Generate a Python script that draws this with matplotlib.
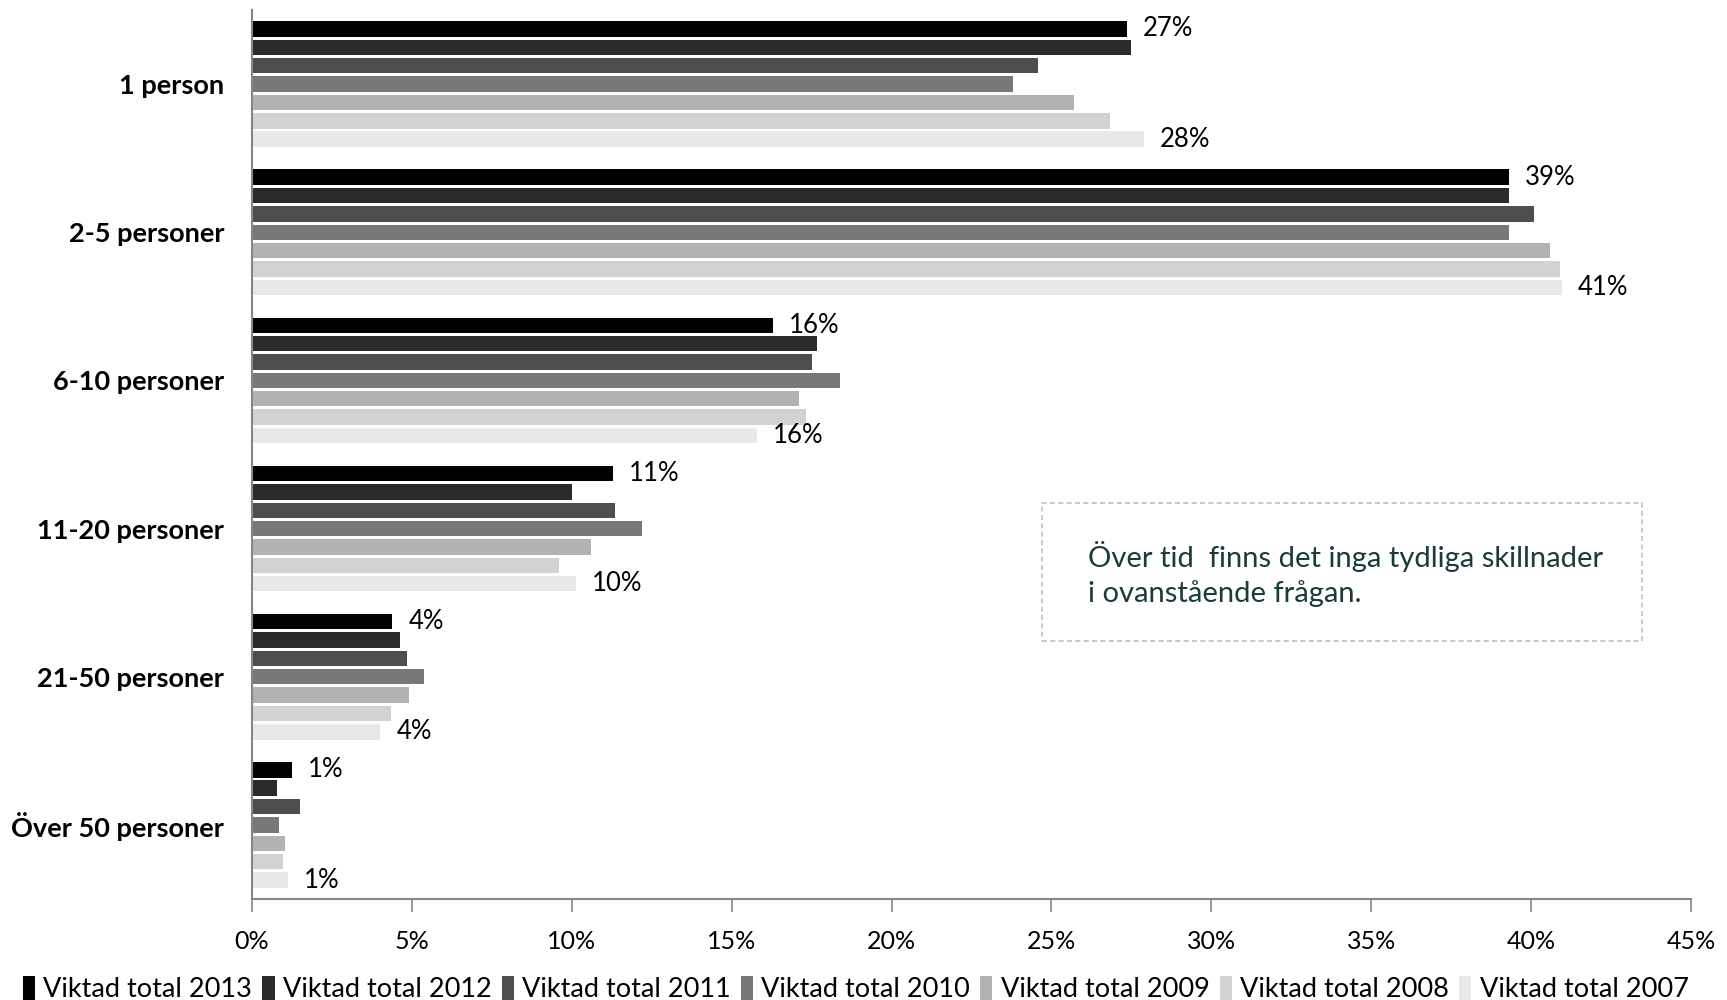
import matplotlib
matplotlib.use("Agg")
import matplotlib.pyplot as plt
from matplotlib.patches import Rectangle
import numpy as np

plt.rcParams['font.family'] = ['Lato', 'DejaVu Sans']

categories = ["1 person", "2-5 personer", "6-10 personer", "11-20 personer",
              "21-50 personer", "Över 50 personer"]
series_names = ["Viktad total 2013", "Viktad total 2012", "Viktad total 2011",
                "Viktad total 2010", "Viktad total 2009", "Viktad total 2008",
                "Viktad total 2007"]
v2013 = [27.35, 39.3, 16.29, 11.29, 4.39, 1.26]
v2012 = [27.49, 39.3, 17.66, 10.01, 4.63, 0.79]
v2011 = [24.59, 40.1, 17.51, 11.35, 4.84, 1.51]
v2010 = [23.81, 39.3, 18.39, 12.19, 5.37, 0.85]
v2009 = [25.69, 40.6, 17.09, 10.61, 4.90, 1.02]
v2008 = [26.83, 40.9, 17.31, 9.61, 4.34, 0.97]
v2007 = [27.90, 40.97, 15.79, 10.12, 4.01, 1.13]
series = [v2013, v2012, v2011, v2010, v2009, v2008, v2007]
colors = ["#000000", "#2b2b2b", "#4e4e4e", "#787878", "#b2b2b2", "#d2d2d2", "#e8e8e8"]
xticks = [0, 5, 10, 15, 20, 25, 30, 35, 40, 45]
note = "Över tid  finns det inga tydliga skillnader\ni ovanstående frågan."

fig = plt.figure(figsize=(17.27, 10), dpi=100)
ax = fig.add_axes([252/1727, 0.101, (1691-252)/1727, 0.889])

slot = 0.124
bh = 0.104
y = np.arange(len(categories))
for j, (name, vals, c) in enumerate(zip(series_names, series, colors)):
    pos = y + (j - 3) * slot
    ax.barh(pos, vals, height=bh, color=c, label=name, edgecolor='none')
    if j in (0, 6):
        for p, v in zip(pos, vals):
            ax.text(v + 0.5, p, f"{round(v):.0f}%", va='center', ha='left',
                    fontsize=18.5, color='black')

ax.set_ylim(len(categories) - 0.5, -0.5)
ax.set_xlim(0, 45)
ax.set_xticks(xticks)
ax.set_xticklabels([f"{t}%" for t in xticks], fontsize=18)
ax.set_yticks(y)
ax.set_yticklabels(categories, fontsize=19.5, fontweight='bold')
ax.tick_params(axis='y', length=0, pad=20)
ax.tick_params(axis='x', length=9, width=1.2, color='#868686', pad=13)
for s in ['top', 'right']:
    ax.spines[s].set_visible(False)
for s in ['left', 'bottom']:
    ax.spines[s].set_color('#868686')
    ax.spines[s].set_linewidth(1.5)

# note box
box = Rectangle((1042/1727, 1 - 641/1000), 600/1727, 138/1000, transform=fig.transFigure,
                fill=False, edgecolor='#c0c0c0', linestyle=(0, (3, 2)), linewidth=1.2)
fig.add_artist(box)
fig.text(1088/1727, 1 - 574/1000, note, fontsize=21, color='#1b3a3a',
         va='center', ha='left', linespacing=1.4)

fig.legend(loc='lower left', bbox_to_anchor=(12/1727, -0.013), ncol=7, frameon=False,
           fontsize=19.5, handlelength=0.45, handleheight=1.0, handletextpad=0.3,
           columnspacing=0.38, borderaxespad=0.0)

fig.savefig("out.png", dpi=100)
